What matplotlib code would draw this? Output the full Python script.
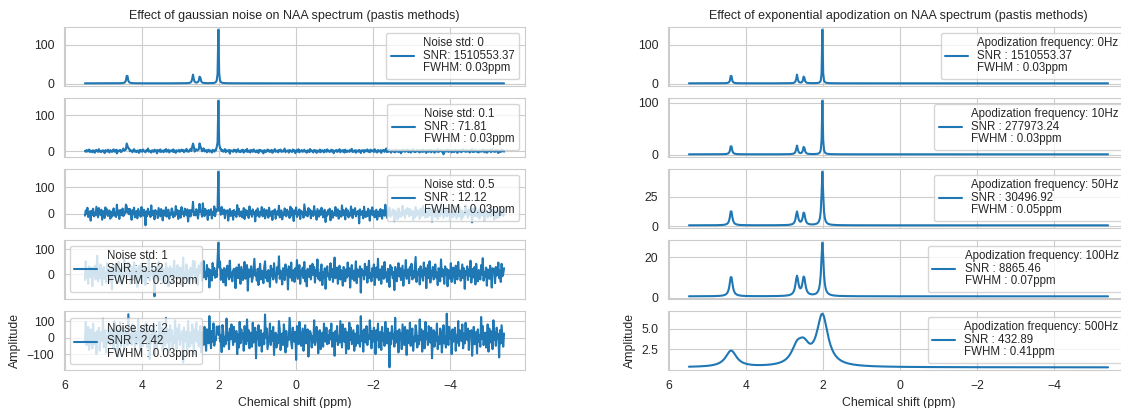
import numpy as np
import matplotlib
matplotlib.use("Agg")
import matplotlib.pyplot as plt
import seaborn as sns

# --- data -------------------------------------------------------------
# chemical shift axis of the simulated NAA spectrum
ppm_start, ppm_stop, n_points = 5.474, -5.406, 513

# NAA resonances (ppm)
peak_ppm = [4.38, 2.67, 2.49, 2.01]

# left column: gaussian noise added to the clean spectrum
noise_std = [0, 0.1, 0.5, 1, 2]
noise_snr = ["1510553.37", "71.81", "12.12", "5.52", "2.42"]
noise_fwhm = ["0.03", "0.03", "0.03", "0.03", "0.03"]
noise_amp_per_std = 25.0   # spectral noise amplitude for noise std = 1

# noise samples, in tenths of one standard deviation
noise_units = [
    3, -8, 12, -5, 0, 17, -11, 6, -2, -14, 9, 4, -19, 7, 13, -3, -9, 21, -6, 2,
    -12, 5, 8, -1, -23, 10, 3, -7, 15, -4, -16, 11, 1, -10, 6, 19, -8, -2, 14, -27,
    7, -5, 2, 12, -13, -6, 9, 24, -3, 0, -11, 8, -18, 4, 16, -9, 5, -1, -15, 10,
    20, -7, 3, -12, 6, 1, -21, 13, -4, 8, -9, 17, 2, -6, -14, 11, 0, 28, -8, 5,
    -3, -17, 9, 4, -10, 15, -2, 7, -25, 12, 3, -6, 18, -11, 1, 6, -13, 9, -4, 22,
    -8, 2, 14, -16, 5, -1, 10, -7, 19, -12, 4, -20, 8, 0, -5, 13, -9, 3, 16, -2,
    11, -14, 6, -3, 23, -8, 1, -11, 7, 15, -18, 2, -6, 9, -24, 5, 12, -4, 0, -10,
    17, -5, 8, -13, 3, 26, -7, -1, 10, -16, 4, 13, -9, 6, -2, -19, 11, 1, -12, 7,
    -6, 18, -3, 9, -22, 2, 14, -8, 5, -11, 0, 20, -15, 7, 3, -5, 12, -30, 8, -1,
    4, -9, 16, -2, 11, -14, 6, 21, -7, 1, -12, 9, -4, 15, -18, 3, 10, -6, 24, -10,
    -3, 7, -16, 12, 0, -8, 19, -5, 2, -13, 8, 5, -21, 14, -1, 10, -7, 3, -26, 11,
    6, -12, 1, 17, -4, 9, -10, 2, 13, -19, 5, -3, 22, -8, 0, 7, -15, 11, -2, 16,
    -9, 4, -6, 10, 27, -13, 3, -1, 8, -17, 12, 6, -5, -11, 18, -2, 9, -23, 1, 14,
    -7, 20, -14, 5, -3, 11, -9, 0, 15, -6, 2, -18, 9, 4, -12, 23, -4, 7, -1, -16,
    12, -2, 8, -20, 6, 1, -8, 17, -13, 3, 10, -5, -15, 13, 0, -9, 19, -3, 5, -11,
    2, 15, -7, 9, -24, 4, -1, 12, -10, 7, -3, 21, -14, 1, 8, -6, 11, -17, 16, -4,
    -12, 6, 0, -9, 14, -2, 25, -11, 3, -5, 10, -19, 7, 2, -8, 13, -1, -22, 9, 4,
    8, -15, 11, -3, 1, 18, -7, 5, -13, 16, -4, 0, 9, -10, 20, -6, 3, -16, 12, -2,
    -5, 10, -20, 7, -1, 13, -9, 4, 29, -12, 2, -7, 15, -3, -18, 6, 11, -8, 1, -14,
    17, -4, 6, -11, 9, 0, -25, 12, -6, 3, 14, -9, 5, -2, 19, -13, 8, -1, -17, 10,
    -3, 22, -8, 2, -12, 7, 15, -5, 1, -16, 11, 4, -10, 18, -7, 0, 9, -21, 6, 13,
    -9, 3, 16, -14, 5, -2, 10, -18, 8, 1, -6, 24, -11, 4, -1, 14, -8, 6, -36, 2,
    11, -7, 0, 19, -10, 5, -4, 13, -15, 7, 2, -12, 17, -3, 9, -20, 1, 12, -5, 8,
    -13, 6, 21, -2, 3, -9, 14, -6, 0, 10, -17, 8, -4, 26, -11, 2, -7, 15, -1, -10,
    5, -16, 9, 1, -8, 12, -3, 18, -14, 4, 7, -19, 11, -5, 0, 16, -12, 3, 20, -6,
    2, -9, 14, -4, 8, -22, 6, 1, -11, 17, -2, 9, -7,
]

# right column: exponential apodization, fitted line heights / widths
apod_freq = [0, 10, 50, 100, 500]
apod_snr = ["1510553.37", "277973.24", "30496.92", "8865.46", "432.89"]
apod_fwhm = ["0.03", "0.03", "0.05", "0.07", "0.41"]
apod_heights = [
    [24.0, 22.0, 20.0, 137.0],
    [18.0, 16.5, 15.5, 103.0],
    [13.0, 11.5, 11.0, 46.0],
    [10.0, 9.6, 9.4, 26.5],
    [1.95, 1.9, 1.9, 6.1],
]
apod_widths = [
    [0.04, 0.04, 0.04, 0.02],
    [0.05, 0.05, 0.05, 0.025],
    [0.07, 0.07, 0.07, 0.05],
    [0.09, 0.09, 0.09, 0.07],
    [0.35, 0.35, 0.35, 0.35],
]
apod_baseline = [1.0, 0.8, 0.6, 0.6, 0.33]

# --- spectra ----------------------------------------------------------
ppm = np.linspace(ppm_start, ppm_stop, n_points)


def spectrum(heights, widths, base):
    y = np.full_like(ppm, base)
    for c, h, w in zip(peak_ppm, heights, widths):
        y += h / (1 + ((ppm - c) / (w / 2)) ** 2)
    return y


clean = spectrum(apod_heights[0], apod_widths[0], apod_baseline[0])
noise = np.array(noise_units, dtype=float) / 10
noise_draws = [noise, noise, noise[::-1], np.roll(noise, 160), np.roll(noise[::-1], 298)]

# --- figure -----------------------------------------------------------
sns.set_style("whitegrid")
plt.rcParams["font.family"] = ["Liberation Sans", "DejaVu Sans"]
plt.rcParams["font.size"] = 8.7

W, H = 1121, 408
fig = plt.figure(figsize=(W / 100, H / 100), dpi=100)

tops = [27, 98, 169, 240, 311]
ax_h, ax_w = 59, 461


def pos(x0, top):
    return [x0 / W, 1 - (top + ax_h) / H, ax_w / W, ax_h / H]


def add_legend(ax, loc):
    leg = ax.legend(loc=loc, fontsize=8.3)
    for t in leg.get_texts():
        t.set_linespacing(1.05)
    return leg


left_axes, right_axes = [], []
for t in tops:
    left_axes.append(fig.add_axes(pos(64, t), sharex=left_axes[0] if left_axes else None))
    right_axes.append(fig.add_axes(pos(668, t), sharex=right_axes[0] if right_axes else None))

left_locs = ["upper right", "upper right", "upper right", "upper left", "lower left"]
for i, ax in enumerate(left_axes):
    y = clean + noise_std[i] * noise_amp_per_std * noise_draws[i]
    sep = ": " if i == 0 else " : "
    label = f"Noise std: {noise_std[i]}\nSNR{sep}{noise_snr[i]}\nFWHM{sep}{noise_fwhm[i]}ppm"
    ax.plot(ppm, y, label=label)
    add_legend(ax, left_locs[i])

for i, ax in enumerate(right_axes):
    y = spectrum(apod_heights[i], apod_widths[i], apod_baseline[i])
    label = (f"Apodization frequency: {apod_freq[i]}Hz\nSNR : {apod_snr[i]}\n"
             f"FWHM : {apod_fwhm[i]}ppm")
    ax.plot(ppm, y, label=label)
    add_legend(ax, "upper right")

for col in (left_axes, right_axes):
    col[0].invert_xaxis()
    for ax in col[:-1]:
        ax.tick_params(labelbottom=False)
    col[-1].set_xlabel("Chemical shift (ppm)", fontsize=8.8)
    col[-1].set_ylabel("Amplitude", fontsize=8.8)

left_axes[0].set_title("Effect of gaussian noise on NAA spectrum (pastis methods)", fontsize=9)
right_axes[0].set_title("Effect of exponential apodization on NAA spectrum (pastis methods)",
                        fontsize=9)

fig.savefig("out.png", dpi=100)
